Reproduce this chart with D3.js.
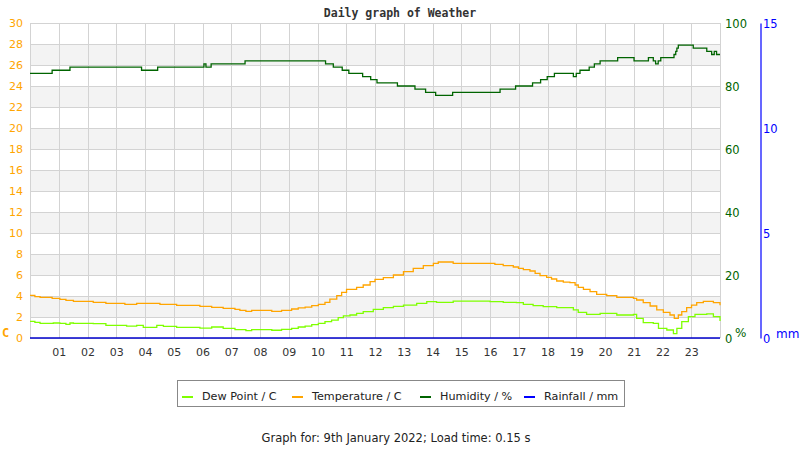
<!DOCTYPE html>
<html><head><meta charset="utf-8">
<script src="https://cdn.jsdelivr.net/npm/d3@7/dist/d3.min.js"></script>
<style>
html,body{margin:0;padding:0;background:#fff;}
svg{display:block;}
text{font-family:"DejaVu Sans",sans-serif;}
</style></head>
<body><svg id="c" width="800" height="450"></svg>
<script>
// ---- data ----
const hourLabels = ["01","02","03","04","05","06","07","08","09","10","11","12","13","14","15","16","17","18","19","20","21","22","23"];
const tempTicks = [0,2,4,6,8,10,12,14,16,18,20,22,24,26,28,30];
const humTicks = [0,20,40,60,80,100];
const rainTicks = [0,5,10,15];

const humTimes = [0,0.77,1.39,3.88,4.44,6.05,6.12,6.30,7.48,10.28,10.55,10.86,11.09,11.57,11.85,12.07,12.78,13.39,13.76,14.11,14.70,16.35,16.89,17.48,17.76,17.99,18.24,18.90,19.00,19.13,19.45,19.63,19.83,20.44,21.01,21.51,21.68,21.76,21.85,21.94,22.40,22.46,22.50,22.55,23.07,23.54,23.71,23.80,23.88,24.0];
const humValues = [84,85,86,85,86,87,86,87,88,87,86,85,84,83,82,81,80,79,78,77,78,79,80,81,82,83,84,83,84,85,86,87,88,89,88,89,88,87,88,89,90,91,92,93,92,91,90,91,90,90];

const tempTimes = [0,0.17,0.35,0.77,1.04,1.25,1.51,2.20,2.64,3.30,3.71,4.52,5.10,5.91,6.32,6.72,7.13,7.30,7.51,7.71,8.41,8.75,9.10,9.33,9.57,9.80,10.03,10.26,10.43,10.67,10.84,11.01,11.36,11.59,11.83,12.0,12.29,12.64,12.99,13.33,13.68,14.03,14.20,14.72,16.0,16.17,16.46,16.81,16.99,17.16,17.39,17.57,17.74,17.97,18.14,18.32,18.55,18.78,18.96,19.07,19.25,19.48,19.71,20.06,20.41,20.99,21.10,21.33,21.57,21.80,22.03,22.26,22.41,22.55,22.67,22.84,23.01,23.19,23.42,23.59,23.77,24.0];
const tempValues = [4.06,3.95,3.87,3.78,3.68,3.58,3.49,3.40,3.30,3.21,3.30,3.21,3.11,3.01,2.92,2.82,2.73,2.63,2.54,2.63,2.54,2.63,2.76,2.86,2.95,3.08,3.21,3.40,3.71,4.03,4.35,4.63,4.83,5.05,5.37,5.59,5.75,6.0,6.32,6.63,6.89,7.11,7.24,7.11,7.11,7.02,6.89,6.76,6.63,6.51,6.38,6.16,5.94,5.78,5.62,5.43,5.33,5.27,5.05,4.83,4.63,4.41,4.16,4.03,3.87,3.78,3.62,3.37,3.05,2.67,2.44,2.19,1.87,2.19,2.51,2.89,3.14,3.37,3.49,3.49,3.37,3.11];

const dewTimes = [0,0.17,0.35,0.81,1.04,1.25,1.39,1.51,2.20,2.64,3.36,3.71,3.94,4.41,4.64,5.10,5.91,6.32,6.72,7.13,7.51,7.71,8.41,8.75,9.10,9.33,9.57,9.80,10.03,10.26,10.49,10.72,10.90,11.13,11.36,11.59,11.94,12.29,12.64,12.99,13.45,13.80,14.14,14.72,16.0,16.46,16.92,17.16,17.50,17.85,18.32,18.90,19.07,19.36,19.83,20.41,20.99,21.10,21.33,21.68,21.86,22.15,22.38,22.50,22.67,22.90,23.13,23.54,23.77,24.0];
const dewValues = [1.59,1.49,1.40,1.43,1.40,1.30,1.43,1.40,1.37,1.21,1.14,1.21,1.02,1.21,1.11,1.02,0.95,1.05,0.92,0.79,0.70,0.79,0.74,0.83,0.92,1.05,1.14,1.27,1.40,1.56,1.71,1.94,2.10,2.19,2.35,2.51,2.73,2.89,3.02,3.14,3.30,3.46,3.40,3.52,3.46,3.40,3.37,3.21,3.08,2.98,2.89,2.67,2.44,2.25,2.35,2.19,2.25,1.87,1.46,1.40,0.92,0.76,0.41,0.92,1.56,2.03,2.25,2.29,2.03,1.62];

const rainTimes = [0,24];
const rainValues = [0,0];

const legendNames = ["Dew Point / C","Temperature / C","Humidity / %","Rainfall / mm"];
const legendColors = ["#7fff00","#ffa500","#006400","#0000ff"];

// ---- chart ----
const svg = d3.select("#c");
const x = d3.scaleLinear().domain([0,24]).range([30,720]);
const yT = d3.scaleLinear().domain([0,30]).range([338,23]);
const yH = d3.scaleLinear().domain([0,100]).range([338,23]);
const yR = d3.scaleLinear().domain([0,15]).range([338,23]);

// alternating bands
const bandStarts = tempTicks.filter(v => v % 4 === 2 && v < 30);
svg.append("g").selectAll("rect").data(bandStarts).join("rect")
  .attr("x", x(0)).attr("width", x(24)-x(0))
  .attr("y", d => yT(d+2)).attr("height", d => yT(d)-yT(d+2))
  .attr("fill", "#f3f3f3");

// grid
const grid = svg.append("g").attr("stroke","#d3d3d3").attr("stroke-width",1);
grid.selectAll("line.h").data(tempTicks).join("line").attr("class","h")
  .attr("x1", x(0)).attr("x2", x(24))
  .attr("y1", d => Math.round(yT(d))+0.5).attr("y2", d => Math.round(yT(d))+0.5);
const vTicks = d3.range(0,25);
grid.selectAll("line.v").data(vTicks).join("line").attr("class","v")
  .attr("y1", yT(30)).attr("y2", yT(0))
  .attr("x1", d => Math.round(x(d))+0.5).attr("x2", d => Math.round(x(d))+0.5);

// left axis
const axL = svg.append("g").attr("transform","translate(23,0)")
  .call(d3.axisLeft(yT).tickValues(tempTicks).tickSize(0).tickPadding(0));
axL.select(".domain").remove();
axL.selectAll("text").attr("fill","#ffa500").style("font-size","11px").attr("dy","0.36em");
svg.append("text").attr("x",2).attr("y",337).text("C")
  .attr("fill","#ffa500").style("font-family","DejaVu Sans Mono").style("font-weight","bold").style("font-size","12px");

// right humidity axis
const axH = svg.append("g").attr("transform","translate(725,0)")
  .call(d3.axisRight(yH).tickValues(humTicks).tickSize(0).tickPadding(0));
axH.select(".domain").remove();
axH.selectAll("text").attr("fill","#006400").style("font-size","11.5px").attr("dy","0.36em");
svg.append("text").attr("x",735).attr("y",337).text("%")
  .attr("fill","#006400").style("font-size","12px");

// rainfall axis
const axR = svg.append("g").attr("transform","translate(760.5,0)")
  .call(d3.axisRight(yR).tickValues(rainTicks).tickSize(0).tickPadding(2.5));
axR.select(".domain").attr("stroke","#0000ff").attr("stroke-width",1.2);
axR.selectAll("text").attr("fill","#0000ff").style("font-size","11.5px").attr("dy","0.36em");
svg.append("text").attr("x",776).attr("y",338).text("mm")
  .attr("fill","#0000ff").style("font-size","12px");

// x axis labels
const axX = svg.append("g").attr("transform","translate(0,348)")
  .call(d3.axisBottom(x).tickValues(d3.range(1,24)).tickFormat((d,i)=>hourLabels[i]).tickSize(0).tickPadding(0));
axX.select(".domain").remove();
axX.selectAll("text").attr("fill","#333").style("font-size","11px");

// lines
function drawLine(times, values, scale, color, w, curve){
  const pts = times.map((t,i)=>[t, values[i]]);
  svg.append("path").datum(pts)
    .attr("fill","none").attr("stroke",color).attr("stroke-width",w)
    .attr("d", d3.line().x(d=>x(d[0])).y(d=>scale(d[1])).curve(curve));
}
drawLine(dewTimes, dewValues, yT, "#7fff00", 1.3, d3.curveStepAfter);
drawLine(tempTimes, tempValues, yT, "#ffa500", 1.3, d3.curveStepAfter);
drawLine(humTimes, humValues, yH, "#006400", 1.3, d3.curveStepAfter);
drawLine(rainTimes, rainValues, yR, "#0000cc", 1.5, d3.curveLinear);

// title
svg.append("text").attr("x",400).attr("y",17).attr("text-anchor","middle")
  .text("Daily graph of Weather")
  .attr("fill","#333").style("font-family","DejaVu Sans Mono").style("font-weight","bold").style("font-size","11.5px");

// legend
const lg = svg.append("g");
lg.append("rect").attr("x",177.5).attr("y",380.5).attr("width",447).attr("height",26)
  .attr("fill","#fff").attr("stroke","#888").attr("stroke-width",1);
const legendX = [182,292,420,524];
legendNames.forEach((n,i)=>{
  lg.append("line").attr("x1",legendX[i]).attr("x2",legendX[i]+11)
    .attr("y1",397).attr("y2",397).attr("stroke",legendColors[i]).attr("stroke-width",2);
  lg.append("text").attr("x",legendX[i]+20).attr("y",400).text(n)
    .attr("fill","#222").style("font-size","11.2px");
});

// footer
svg.append("text").attr("x",396).attr("y",442).attr("text-anchor","middle")
  .text("Graph for: 9th January 2022; Load time: 0.15 s")
  .attr("fill","#222").style("font-size","11.5px");
</script>
</body></html>
